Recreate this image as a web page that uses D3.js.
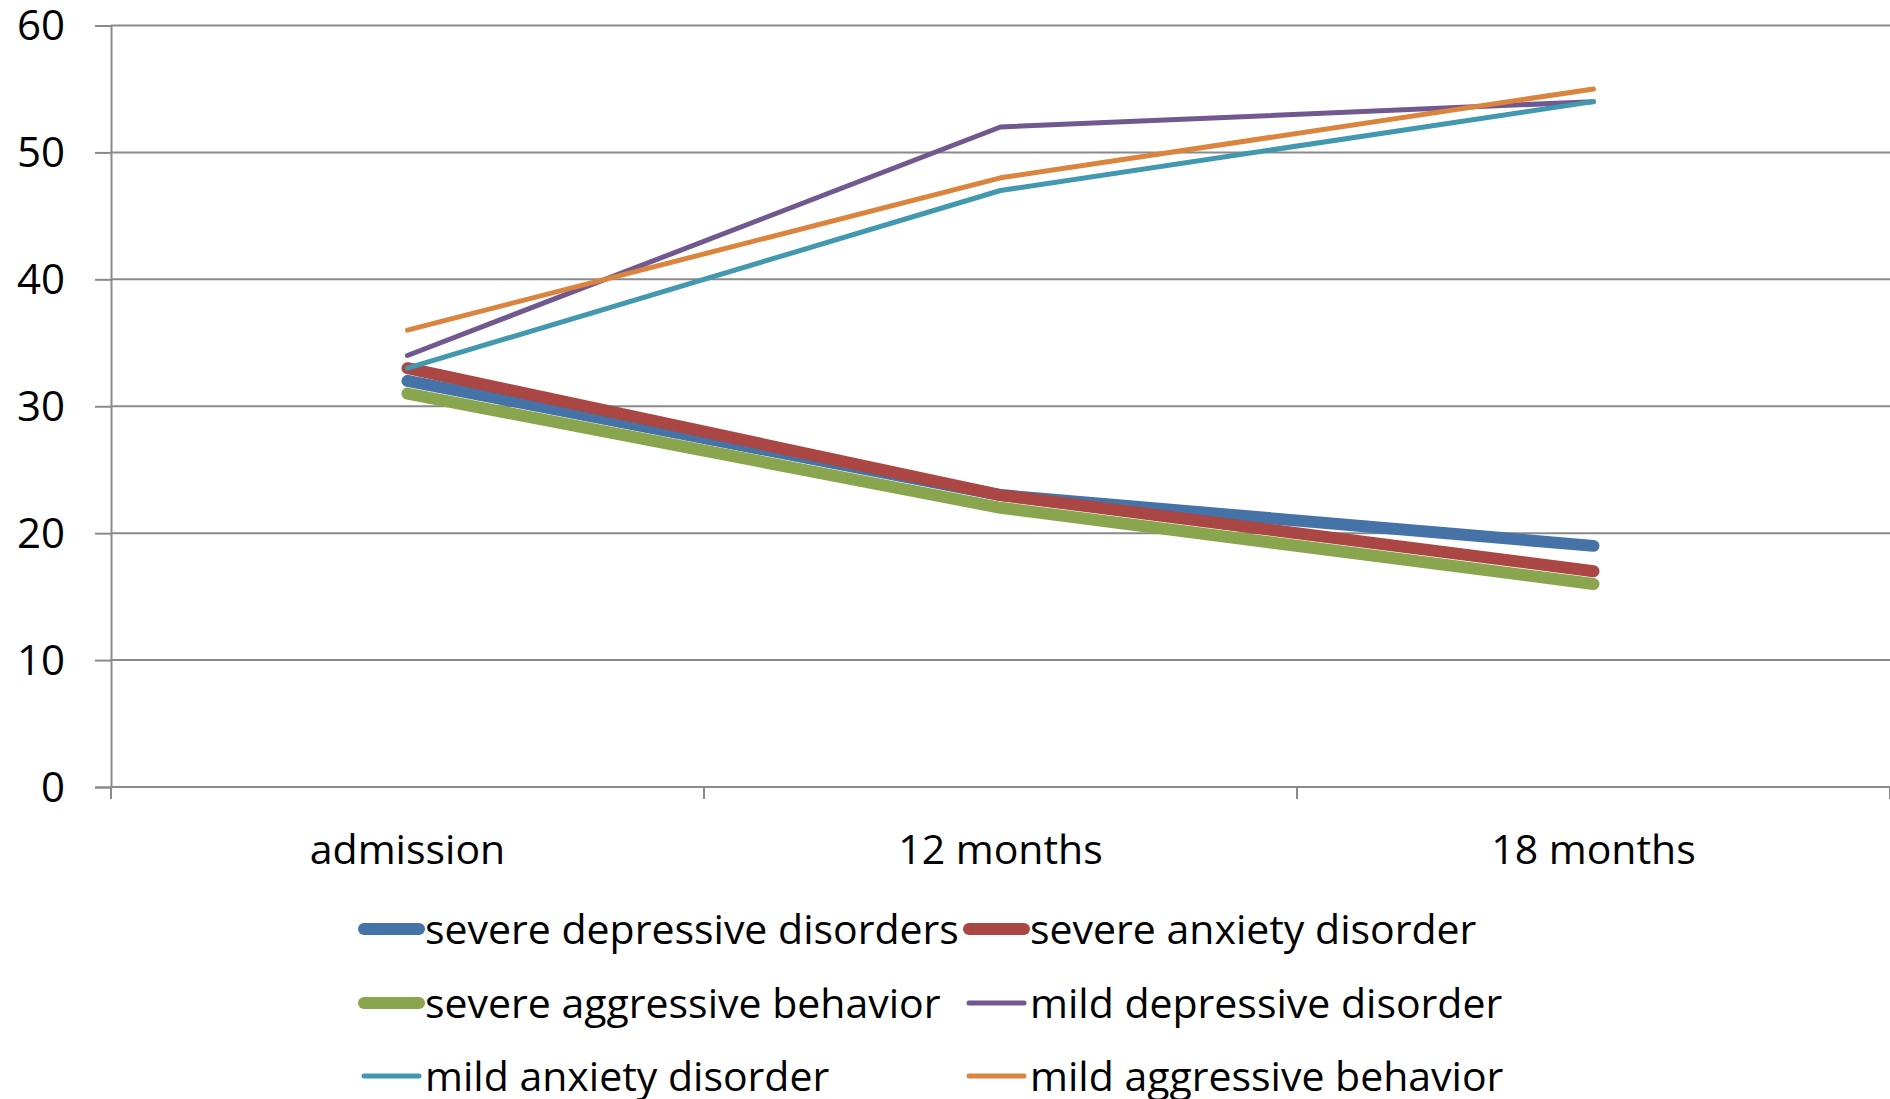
<!DOCTYPE html>
<html>
<head>
<meta charset="utf-8">
<script src="https://cdn.jsdelivr.net/npm/d3@7"></script>
<style>
  html, body { margin: 0; padding: 0; background: #fff; overflow: hidden; }
  svg { display: block; }
  text { font-family: "Open Sans", sans-serif; fill: #000; }
</style>
</head>
<body>
<svg id="chart" width="1890" height="1099"></svg>
<script>
// ---- data ----
const categories = ["admission", "12 months", "18 months"];
const seriesNames = [
  "severe depressive disorders",
  "severe anxiety disorder",
  "severe aggressive behavior",
  "mild depressive disorder",
  "mild anxiety disorder",
  "mild aggressive behavior"
];
const severeDepressive = [32, 23, 19];
const severeAnxiety    = [33, 23, 17];
const severeAggressive = [31, 22, 16];
const mildDepressive   = [34, 52, 54];
const mildAnxiety      = [33, 47, 54];
const mildAggressive   = [36, 48, 55];
const yTicks = [0, 10, 20, 30, 40, 50, 60];

// ---- styling ----
const colors = ["#4572A7", "#AA4643", "#89A54E", "#71588F", "#4198AF", "#DB843D"];
const widths = [12, 12, 12, 5, 5, 5];
const seriesValues = [severeDepressive, severeAnxiety, severeAggressive, mildDepressive, mildAnxiety, mildAggressive];

const svg = d3.select("#chart");
const plot = { left: 111, right: 1890, top: 25.5, bottom: 787 };

const x = d3.scaleBand().domain(categories).range([plot.left, plot.right]).padding(0);
const y = d3.scaleLinear().domain([0, 60]).range([plot.bottom, plot.top]);
const cx = c => x(c) + x.bandwidth() / 2;

const gridColor = "#8a8a8a";

// gridlines
svg.append("g").selectAll("line").data(yTicks).join("line")
  .attr("x1", plot.left).attr("x2", plot.right)
  .attr("y1", d => y(d)).attr("y2", d => y(d))
  .attr("stroke", gridColor).attr("stroke-width", 2);

// y axis
const yAxis = svg.append("g").attr("transform", `translate(${plot.left},0)`)
  .call(d3.axisLeft(y).tickValues(yTicks).tickSize(16).tickPadding(30).tickFormat(d3.format("d")));
yAxis.select(".domain").attr("stroke", gridColor).attr("stroke-width", 2);
yAxis.selectAll(".tick line").attr("stroke", gridColor).attr("stroke-width", 2);
yAxis.selectAll(".tick text").attr("font-size", 42).attr("font-family", "'Open Sans', sans-serif").attr("fill", "#000").attr("dy", "0.34em");

// x axis
const xAxis = svg.append("g").attr("transform", `translate(0,${plot.bottom})`)
  .call(d3.axisBottom(x).tickSize(0).tickPadding(48));
xAxis.select(".domain").remove();
xAxis.selectAll(".tick text").attr("font-size", 41).attr("font-family", "'Open Sans', sans-serif").attr("fill", "#000");
// category boundary ticks
const boundaries = categories.map(c => x(c)).concat([x(categories[categories.length - 1]) + x.bandwidth()]);
svg.append("g").selectAll("line").data(boundaries).join("line")
  .attr("x1", d => d).attr("x2", d => d)
  .attr("y1", plot.bottom).attr("y2", plot.bottom + 12)
  .attr("stroke", gridColor).attr("stroke-width", 2);

// lines
const line = d3.line().x((d, i) => cx(categories[i])).y(d => y(d));
svg.append("g").selectAll("path").data(seriesValues).join("path")
  .attr("d", d => line(d))
  .attr("fill", "none")
  .attr("stroke", (d, i) => colors[i])
  .attr("stroke-width", (d, i) => widths[i])
  .attr("stroke-linecap", "round")
  .attr("stroke-linejoin", "round");

// legend
const legendCols = [364, 969];
const legendRows = [929, 1003, 1076];
const leg = svg.append("g").selectAll("g").data(seriesNames).join("g")
  .attr("transform", (d, i) => `translate(${legendCols[i % 2]},${legendRows[Math.floor(i / 2)]})`);
leg.append("line")
  .attr("x1", 0).attr("x2", 55).attr("y1", 0).attr("y2", 0)
  .attr("stroke", (d, i) => colors[i])
  .attr("stroke-width", (d, i) => widths[i])
  .attr("stroke-linecap", "round");
leg.append("text")
  .attr("x", 61).attr("y", 0).attr("dy", "0.36em")
  .attr("font-size", 41)
  .text(d => d);
</script>
</body>
</html>
